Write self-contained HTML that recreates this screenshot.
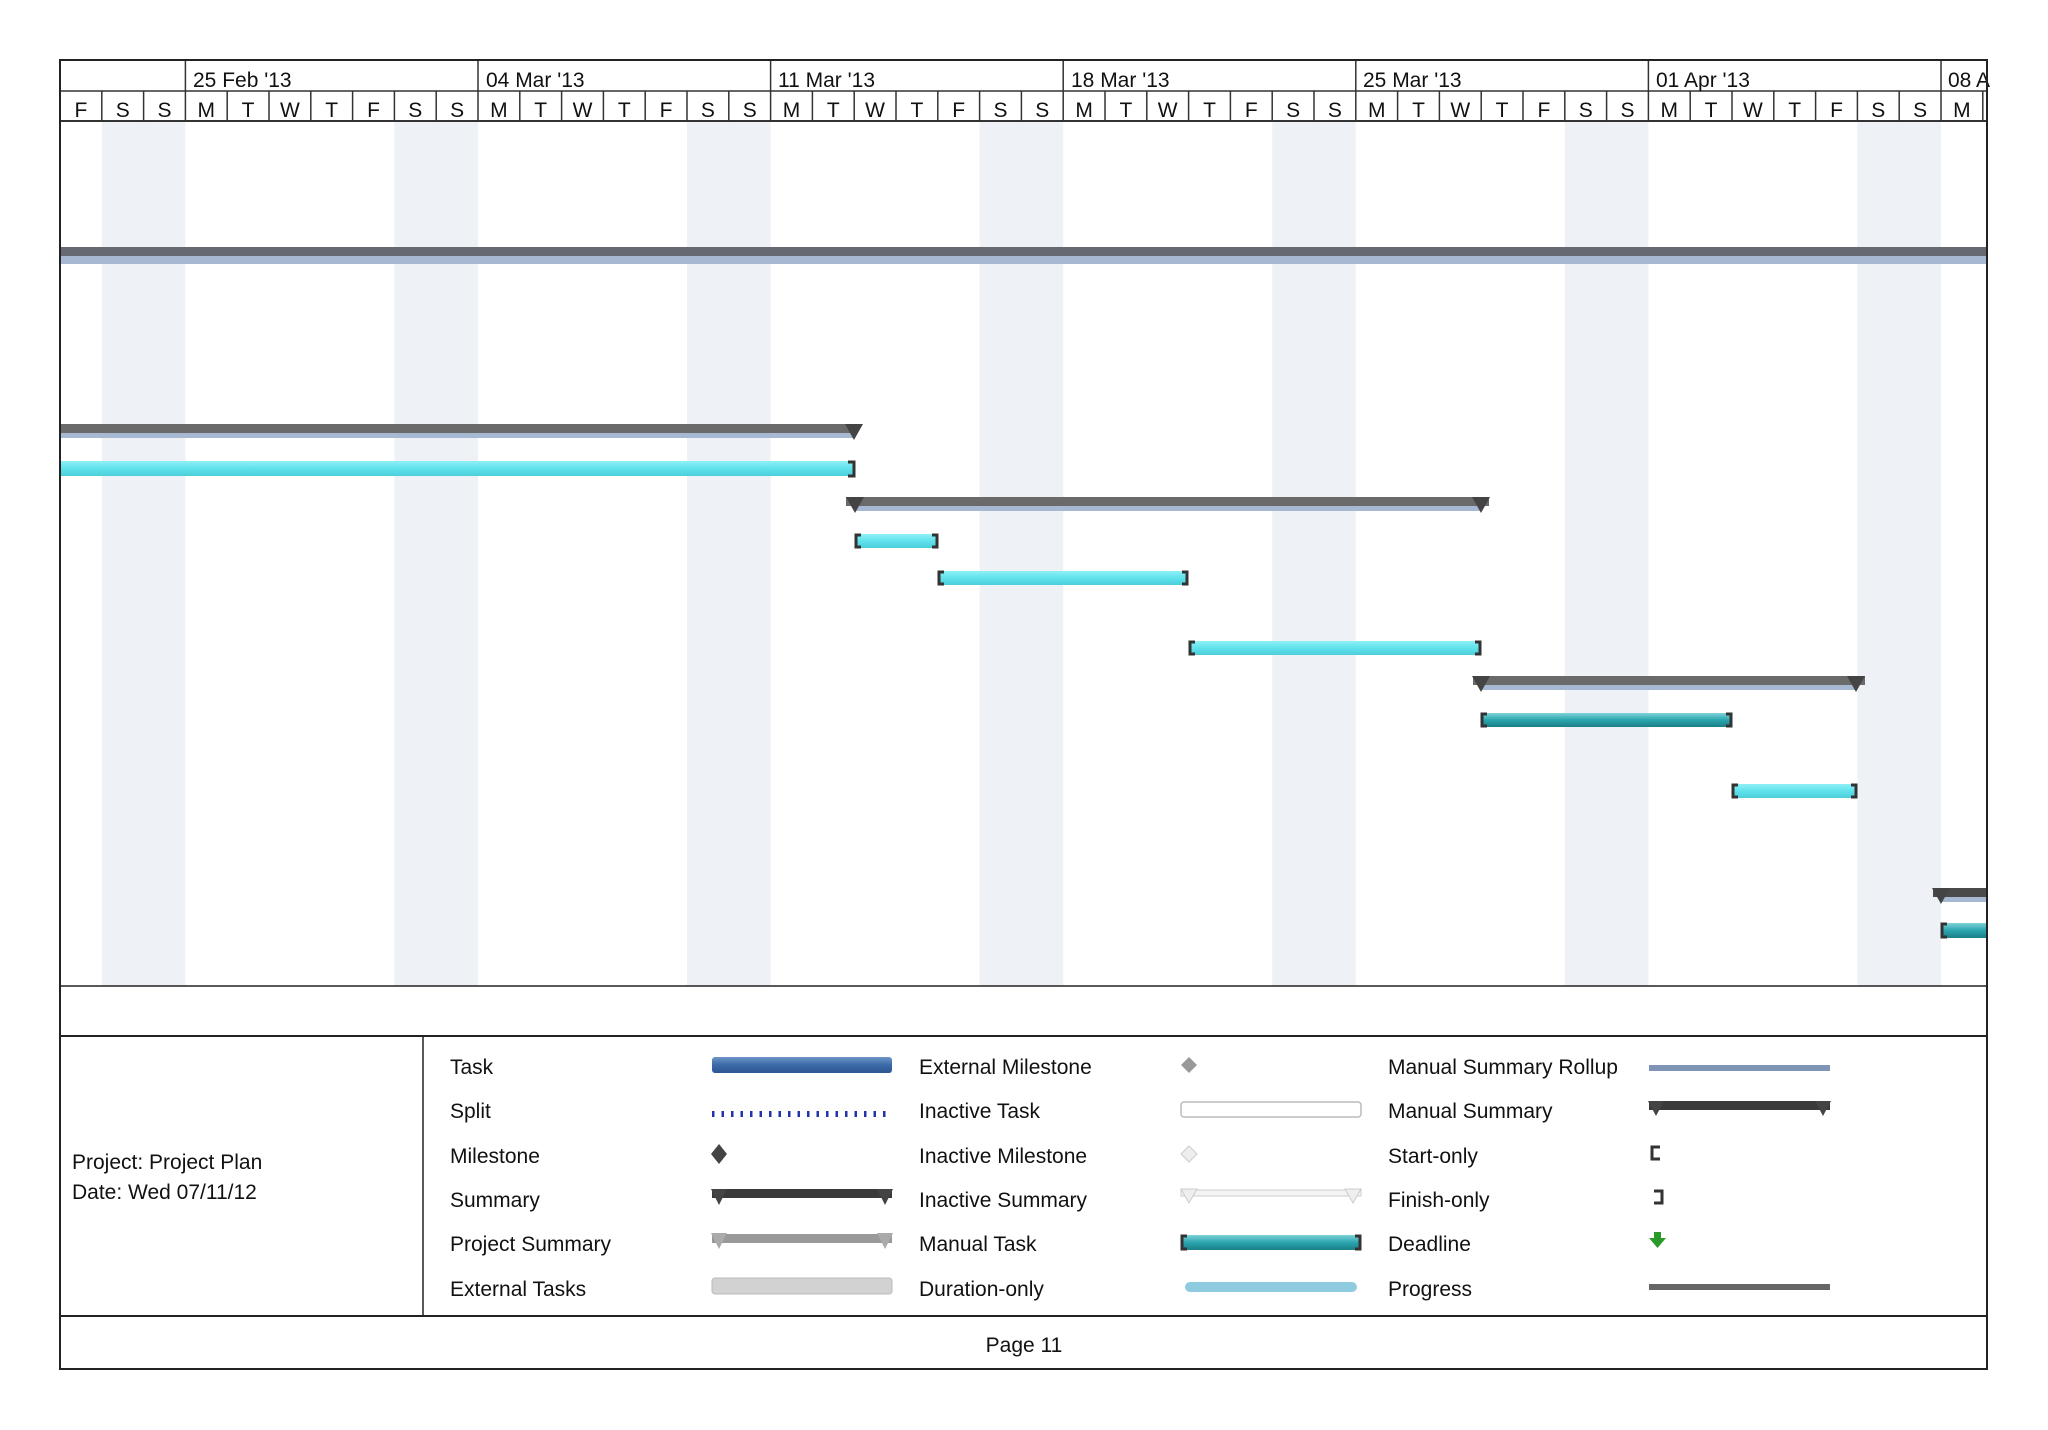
<!DOCTYPE html>
<html><head><meta charset="utf-8"><style>
html,body{margin:0;padding:0;background:#fff;}
svg{display:block;font-family:"Liberation Sans",sans-serif;}
</style></head><body>
<svg width="2048" height="1430" viewBox="0 0 2048 1430" xmlns="http://www.w3.org/2000/svg">
<defs>
<linearGradient id="cy" x1="0" y1="0" x2="0" y2="1"><stop offset="0" stop-color="#8ff0f6"/><stop offset="0.5" stop-color="#5fe2ec"/><stop offset="1" stop-color="#4ccfda"/></linearGradient>
<linearGradient id="tl" x1="0" y1="0" x2="0" y2="1"><stop offset="0" stop-color="#7fd3d8"/><stop offset="0.5" stop-color="#2aa5ae"/><stop offset="1" stop-color="#1b7f88"/></linearGradient>
<linearGradient id="bl" x1="0" y1="0" x2="0" y2="1"><stop offset="0" stop-color="#6d95c8"/><stop offset="0.5" stop-color="#3d6aa8"/><stop offset="1" stop-color="#2c5590"/></linearGradient>
</defs>
<!-- weekend shading -->
<g fill="#eef1f6">
<rect x="101.8" y="121" width="83.6" height="865"/>
<rect x="394.4" y="121" width="83.6" height="865"/>
<rect x="687" y="121" width="83.6" height="865"/>
<rect x="979.6" y="121" width="83.6" height="865"/>
<rect x="1272.2" y="121" width="83.6" height="865"/>
<rect x="1564.8" y="121" width="83.6" height="865"/>
<rect x="1857.4" y="121" width="83.6" height="865"/>
</g>
<!-- header -->
<g stroke="#333" stroke-width="1.5">
<line x1="60" y1="91" x2="1987" y2="91"/>
<line x1="60" y1="121" x2="1987" y2="121" stroke-width="2"/>
<line x1="185.4" y1="60" x2="185.4" y2="91"/><line x1="478" y1="60" x2="478" y2="91"/><line x1="770.6" y1="60" x2="770.6" y2="91"/><line x1="1063.2" y1="60" x2="1063.2" y2="91"/><line x1="1355.8" y1="60" x2="1355.8" y2="91"/><line x1="1648.4" y1="60" x2="1648.4" y2="91"/><line x1="1941" y1="60" x2="1941" y2="91"/>
<line x1="101.8" y1="91" x2="101.8" y2="121"/><line x1="143.6" y1="91" x2="143.6" y2="121"/><line x1="185.4" y1="91" x2="185.4" y2="121"/><line x1="227.2" y1="91" x2="227.2" y2="121"/><line x1="269" y1="91" x2="269" y2="121"/><line x1="310.8" y1="91" x2="310.8" y2="121"/><line x1="352.6" y1="91" x2="352.6" y2="121"/><line x1="394.4" y1="91" x2="394.4" y2="121"/><line x1="436.2" y1="91" x2="436.2" y2="121"/><line x1="478" y1="91" x2="478" y2="121"/><line x1="519.8" y1="91" x2="519.8" y2="121"/><line x1="561.6" y1="91" x2="561.6" y2="121"/><line x1="603.4" y1="91" x2="603.4" y2="121"/><line x1="645.2" y1="91" x2="645.2" y2="121"/><line x1="687" y1="91" x2="687" y2="121"/><line x1="728.8" y1="91" x2="728.8" y2="121"/><line x1="770.6" y1="91" x2="770.6" y2="121"/><line x1="812.4" y1="91" x2="812.4" y2="121"/><line x1="854.2" y1="91" x2="854.2" y2="121"/><line x1="896" y1="91" x2="896" y2="121"/><line x1="937.8" y1="91" x2="937.8" y2="121"/><line x1="979.6" y1="91" x2="979.6" y2="121"/><line x1="1021.4" y1="91" x2="1021.4" y2="121"/><line x1="1063.2" y1="91" x2="1063.2" y2="121"/><line x1="1105" y1="91" x2="1105" y2="121"/><line x1="1146.8" y1="91" x2="1146.8" y2="121"/><line x1="1188.6" y1="91" x2="1188.6" y2="121"/><line x1="1230.4" y1="91" x2="1230.4" y2="121"/><line x1="1272.2" y1="91" x2="1272.2" y2="121"/><line x1="1314" y1="91" x2="1314" y2="121"/><line x1="1355.8" y1="91" x2="1355.8" y2="121"/><line x1="1397.6" y1="91" x2="1397.6" y2="121"/><line x1="1439.4" y1="91" x2="1439.4" y2="121"/><line x1="1481.2" y1="91" x2="1481.2" y2="121"/><line x1="1523" y1="91" x2="1523" y2="121"/><line x1="1564.8" y1="91" x2="1564.8" y2="121"/><line x1="1606.6" y1="91" x2="1606.6" y2="121"/><line x1="1648.4" y1="91" x2="1648.4" y2="121"/><line x1="1690.2" y1="91" x2="1690.2" y2="121"/><line x1="1732" y1="91" x2="1732" y2="121"/><line x1="1773.8" y1="91" x2="1773.8" y2="121"/><line x1="1815.6" y1="91" x2="1815.6" y2="121"/><line x1="1857.4" y1="91" x2="1857.4" y2="121"/><line x1="1899.2" y1="91" x2="1899.2" y2="121"/><line x1="1941" y1="91" x2="1941" y2="121"/><line x1="1982.8" y1="91" x2="1982.8" y2="121"/>
</g>
<g font-size="21" fill="#111">
<text x="193" y="87">25 Feb '13</text><text x="486" y="87">04 Mar '13</text><text x="778" y="87">11 Mar '13</text><text x="1071" y="87">18 Mar '13</text><text x="1363" y="87">25 Mar '13</text><text x="1656" y="87">01 Apr '13</text><text x="1948" y="87">08 A</text>
</g>
<g font-size="21" fill="#111" text-anchor="middle">
<text x="80.9" y="117">F</text><text x="122.7" y="117">S</text><text x="164.5" y="117">S</text>
<text x="206.3" y="117">M</text><text x="248.1" y="117">T</text><text x="289.9" y="117">W</text><text x="331.7" y="117">T</text><text x="373.5" y="117">F</text><text x="415.3" y="117">S</text><text x="457.1" y="117">S</text>
<text x="498.9" y="117">M</text><text x="540.7" y="117">T</text><text x="582.5" y="117">W</text><text x="624.3" y="117">T</text><text x="666.1" y="117">F</text><text x="707.9" y="117">S</text><text x="749.7" y="117">S</text>
<text x="791.5" y="117">M</text><text x="833.3" y="117">T</text><text x="875.1" y="117">W</text><text x="916.9" y="117">T</text><text x="958.7" y="117">F</text><text x="1000.5" y="117">S</text><text x="1042.3" y="117">S</text>
<text x="1084.1" y="117">M</text><text x="1125.9" y="117">T</text><text x="1167.7" y="117">W</text><text x="1209.5" y="117">T</text><text x="1251.3" y="117">F</text><text x="1293.1" y="117">S</text><text x="1334.9" y="117">S</text>
<text x="1376.7" y="117">M</text><text x="1418.5" y="117">T</text><text x="1460.3" y="117">W</text><text x="1502.1" y="117">T</text><text x="1543.9" y="117">F</text><text x="1585.7" y="117">S</text><text x="1627.5" y="117">S</text>
<text x="1669.3" y="117">M</text><text x="1711.1" y="117">T</text><text x="1752.9" y="117">W</text><text x="1794.7" y="117">T</text><text x="1836.5" y="117">F</text><text x="1878.3" y="117">S</text><text x="1920.1" y="117">S</text>
<text x="1961.9" y="117">M</text>
</g>
<!-- project summary -->
<rect x="60" y="247" width="1927" height="9" fill="#666a70"/>
<rect x="60" y="256" width="1927" height="8" fill="#a6b8d2"/>
<!-- summary 1 -->
<rect x="60" y="424" width="794" height="9" fill="#6a6a6a"/><rect x="60" y="433" width="794" height="5" fill="#a6b8d2"/>
<polygon points="845,424 863,424 854,440" fill="#444"/>
<!-- manual task 1 -->
<rect x="60" y="461" width="794" height="15" fill="url(#cy)"/>
<path d="M848,462 H854 V476 H848" fill="none" stroke="#333" stroke-width="3"/>
<!-- summary 2 -->
<rect x="846" y="497" width="643" height="9" fill="#6a6a6a"/><rect x="854" y="506" width="627" height="5" fill="#a6b8d2"/>
<polygon points="846,497 864,497 855,513" fill="#444"/><polygon points="1472,497 1490,497 1481,513" fill="#444"/>
<!-- tasks -->
<g stroke="#333" stroke-width="3" fill="none">
<rect x="855" y="534" width="83" height="14" fill="url(#cy)" stroke="none"/>
<path d="M861,535 H856 V547 H861 M932,535 H937 V547 H932"/>
<rect x="938" y="571" width="250" height="14" fill="url(#cy)" stroke="none"/>
<path d="M944,572 H939 V584 H944 M1182,572 H1187 V584 H1182"/>
<rect x="1189" y="641" width="292" height="14" fill="url(#cy)" stroke="none"/>
<path d="M1195,642 H1190 V654 H1195 M1475,642 H1480 V654 H1475"/>
<rect x="1481" y="713" width="251" height="14" fill="url(#tl)" stroke="none"/>
<path d="M1487,714 H1482 V726 H1487 M1726,714 H1731 V726 H1726"/>
<rect x="1732" y="784" width="125" height="14" fill="url(#cy)" stroke="none"/>
<path d="M1738,785 H1733 V797 H1738 M1851,785 H1856 V797 H1851"/>
<rect x="1941" y="923" width="46" height="15" fill="url(#tl)" stroke="none"/>
<path d="M1947,924 H1942 V937 H1947"/>
</g>
<!-- summary 3 -->
<rect x="1473" y="676" width="392" height="9" fill="#6a6a6a"/><rect x="1481" y="685" width="376" height="5" fill="#a6b8d2"/>
<polygon points="1472,676 1490,676 1481,692" fill="#444"/><polygon points="1847,676 1865,676 1856,692" fill="#444"/>
<!-- summary 4 -->
<rect x="1933" y="888" width="54" height="9" fill="#4a4a4a"/><rect x="1941" y="897" width="46" height="5" fill="#a6b8d2"/>
<polygon points="1932,888 1950,888 1941,904" fill="#444"/>
<!-- frame -->
<g stroke="#222" fill="none">
<rect x="60" y="60" width="1927" height="1309" stroke-width="2"/>
<line x1="60" y1="986" x2="1987" y2="986" stroke-width="1.5"/>
<line x1="60" y1="1036" x2="1987" y2="1036" stroke-width="2"/>
<line x1="60" y1="1316" x2="1987" y2="1316" stroke-width="2"/>
<line x1="423" y1="1036" x2="423" y2="1316" stroke-width="1.5"/>
</g>
<!-- legend text -->
<g font-size="21" fill="#111">
<text x="72" y="1169">Project: Project Plan</text>
<text x="72" y="1199">Date: Wed 07/11/12</text>
<text x="450" y="1074">Task</text><text x="450" y="1118">Split</text><text x="450" y="1163">Milestone</text><text x="450" y="1207">Summary</text><text x="450" y="1251">Project Summary</text><text x="450" y="1296">External Tasks</text>
<text x="919" y="1074">External Milestone</text><text x="919" y="1118">Inactive Task</text><text x="919" y="1163">Inactive Milestone</text><text x="919" y="1207">Inactive Summary</text><text x="919" y="1251">Manual Task</text><text x="919" y="1296">Duration-only</text>
<text x="1388" y="1074">Manual Summary Rollup</text><text x="1388" y="1118">Manual Summary</text><text x="1388" y="1163">Start-only</text><text x="1388" y="1207">Finish-only</text><text x="1388" y="1251">Deadline</text><text x="1388" y="1296">Progress</text>
<text x="1024" y="1352" text-anchor="middle">Page 11</text>
</g>
<!-- legend symbols col1 -->
<rect x="712" y="1057" width="180" height="16" rx="3" fill="url(#bl)"/>
<line x1="712" y1="1114" x2="892" y2="1114" stroke="#2233aa" stroke-width="6" stroke-dasharray="2.5,7"/>
<polygon points="719,1144 727,1154 719,1164 711,1154" fill="#444"/>
<rect x="712" y="1189" width="180" height="9" fill="#3a3a3a"/>
<polygon points="711,1189 727,1189 719,1205" fill="#444"/><polygon points="877,1189 893,1189 885,1205" fill="#444"/>
<rect x="712" y="1234" width="180" height="9" fill="#999"/>
<polygon points="711,1233 727,1233 719,1249" fill="#aaa"/><polygon points="877,1233 893,1233 885,1249" fill="#aaa"/>
<rect x="712" y="1278" width="180" height="16" rx="3" fill="#d2d2d2" stroke="#bbb"/>
<!-- col2 -->
<polygon points="1189,1057 1197,1065 1189,1073 1181,1065" fill="#999"/>
<rect x="1181" y="1102" width="180" height="15" rx="3" fill="#fff" stroke="#bbb" stroke-width="1.5"/>
<polygon points="1189,1146 1197,1154 1189,1162 1181,1154" fill="#eee" stroke="#ccc"/>
<rect x="1181" y="1190" width="180" height="6" fill="#f4f4f4" stroke="#ccc"/>
<polygon points="1181,1189 1197,1189 1189,1203" fill="#eee" stroke="#ccc"/><polygon points="1345,1189 1361,1189 1353,1203" fill="#eee" stroke="#ccc"/>
<rect x="1181" y="1235" width="180" height="15" fill="url(#tl)"/>
<path d="M1187,1236 H1182 V1249 H1187 M1355,1236 H1360 V1249 H1355" fill="none" stroke="#333" stroke-width="3"/>
<rect x="1185" y="1282" width="172" height="10" rx="5" fill="#8fcbe0"/>
<!-- col3 -->
<rect x="1649" y="1065" width="181" height="6" fill="#8094b5"/>
<rect x="1649" y="1101" width="181" height="9" fill="#3a3a3a"/>
<polygon points="1648,1101 1664,1101 1656,1116" fill="#444"/><polygon points="1815,1101 1831,1101 1823,1116" fill="#444"/>
<path d="M1660,1147 H1652 V1159 H1660" fill="none" stroke="#333" stroke-width="3"/>
<path d="M1654,1191 H1662 V1203 H1654" fill="none" stroke="#333" stroke-width="3"/>
<polygon points="1654,1232 1661,1232 1661,1238 1666,1238 1657.5,1248 1649,1238 1654,1238" fill="#2a9a2a"/>
<rect x="1649" y="1284" width="181" height="6" fill="#666"/>
</svg>
</body></html>
